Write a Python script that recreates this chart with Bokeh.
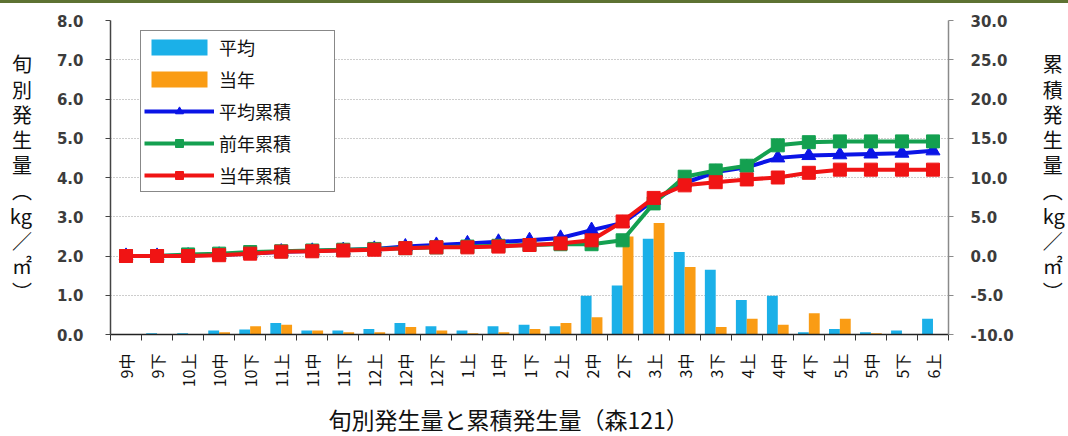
import numpy as np
from bokeh.plotting import figure
from bokeh.models import (Range1d, LinearAxis, FixedTicker, NumeralTickFormatter,
                          Legend, LegendItem, Title, ColumnDataSource)
from bokeh.transform import dodge
from bokeh.embed import file_html
from bokeh.resources import INLINE

# Dekads (旬) from mid-September to early June
categories = ["9中", "9下", "10上", "10中", "10下", "11上", "11中", "11下", "12上",
              "12中", "12下", "1上", "1中", "1下", "2上", "2中", "2下", "3上",
              "3中", "3下", "4上", "4中", "4下", "5上", "5中", "5下", "6上"]

# Per-dekad amounts (kg/㎡), left axis
avg_dekad = [0.00, 0.03, 0.03, 0.10, 0.13, 0.29, 0.10, 0.10, 0.14, 0.29, 0.21, 0.10, 0.21, 0.25,
             0.21, 0.99, 1.25, 2.44, 2.10, 1.65, 0.88, 0.99, 0.06, 0.14, 0.06, 0.10, 0.40]
cur_dekad = [0.00, 0.00, 0.00, 0.06, 0.21, 0.25, 0.10, 0.06, 0.06, 0.19, 0.10, 0.03, 0.06, 0.14,
             0.29, 0.44, 2.50, 2.84, 1.72, 0.19, 0.40, 0.25, 0.54, 0.40, 0.03, 0.01, 0.00]

# Cumulative amounts (kg/㎡), right axis
avg_cum = [0.0, 0.0, 0.05, 0.15, 0.3, 0.55, 0.65, 0.75, 0.9, 1.2, 1.4, 1.6, 1.8, 2.0,
           2.3, 3.3, 4.2, 7.1, 9.3, 10.7, 11.3, 12.5, 12.8, 12.9, 13.0, 13.1, 13.4]
prev_cum = [0.0, 0.0, 0.2, 0.3, 0.5, 0.6, 0.7, 0.8, 0.9, 1.0, 1.1, 1.2, 1.3, 1.4,
            1.5, 1.5, 2.0, 6.7, 10.1, 10.9, 11.5, 14.1, 14.5, 14.6, 14.6, 14.6, 14.6]
cur_cum = [0.0, 0.0, 0.0, 0.1, 0.3, 0.55, 0.6, 0.7, 0.8, 1.0, 1.1, 1.1, 1.2, 1.4,
           1.6, 2.0, 4.4, 7.4, 9.0, 9.4, 9.75, 10.0, 10.6, 11.0, 11.0, 11.0, 11.0]

left_ticks = [0, 1, 2, 3, 4, 5, 6, 7, 8]
right_ticks = [-10, -5, 0, 5, 10, 15, 20, 25, 30]

left_title = ["旬", "別", "発", "生", "量", "︵", "kg", "／", "㎡", "︶"]
right_title = ["累", "積", "発", "生", "量", "︵", "kg", "／", "㎡", "︶"]
caption = "旬別発生量と累積発生量（森121）"

JP = "Noto Sans CJK JP"
NUM = "DejaVu Sans"

n = len(categories)
centers = [i + 0.5 for i in range(n)]
src = ColumnDataSource(dict(x=centers, avg=avg_dekad, cur=cur_dekad,
                            avg_cum=avg_cum, prev_cum=prev_cum, cur_cum=cur_cum))

p = figure(width=1068, height=433, frame_width=838, frame_height=314,
           output_backend="svg", toolbar_location=None,
           x_range=Range1d(0, n), y_range=Range1d(left_ticks[0], left_ticks[-1]),
           min_border_left=110, min_border_right=120, min_border_top=17, min_border_bottom=102)
p.styles = {"border-top": "3px solid #5d7232"}
p.extra_y_ranges = {"cum": Range1d(right_ticks[0], right_ticks[-1])}
p.outline_line_color = None
p.background_fill_color = "white"
p.border_fill_color = "white"

# grid
p.xgrid.visible = False
p.ygrid.ticker = FixedTicker(ticks=left_ticks)
p.ygrid.grid_line_color = "#9a9a9a"
p.ygrid.grid_line_dash = "1 2"
p.ygrid.grid_line_width = 1

# x axis: labels at dekad centres, tick marks on dekad boundaries
xa = p.xaxis[0]
xa.ticker = FixedTicker(ticks=centers, minor_ticks=list(range(n + 1)))
xa.major_label_overrides = {c: lab for c, lab in zip(centers, categories)}
xa.major_label_orientation = np.pi / 2
xa.major_tick_out = 0
xa.major_tick_in = 0
xa.minor_tick_out = 6
xa.minor_tick_in = 0
xa.minor_tick_line_color = "#333333"
xa.axis_line_color = "#222222"
xa.axis_line_width = 1.5
xa.major_label_standoff = 13
xa.major_label_text_font = JP
xa.major_label_text_font_size = "16px"
xa.major_label_text_color = "#111111"


def style_y(ax, line_color, standoff, title_chars, title_standoff):
    ax.minor_tick_line_color = None
    ax.major_tick_out = 5
    ax.major_tick_in = 0
    ax.axis_line_color = line_color
    ax.axis_line_width = 1.5
    ax.major_tick_line_color = line_color
    ax.major_label_standoff = standoff
    ax.major_label_text_font = NUM
    ax.major_label_text_font_style = "bold"
    ax.major_label_text_font_size = "15px"
    ax.major_label_text_color = "#3c3c3c"
    # stacked upright characters, written top to bottom
    ax.axis_label = "\n".join(title_chars)
    ax.axis_label_orientation = "horizontal"
    ax.axis_label_standoff = title_standoff
    ax.axis_label_text_font = JP
    ax.axis_label_text_font_style = "normal"
    ax.axis_label_text_font_size = "20px"
    ax.axis_label_text_line_height = 0.87
    ax.axis_label_text_align = "center"
    ax.axis_label_text_color = "#111111"


# left axis
ya = p.yaxis[0]
ya.ticker = FixedTicker(ticks=left_ticks)
ya.formatter = NumeralTickFormatter(format="0.0")
style_y(ya, "#444444", 22, left_title, 22)

# right axis for the cumulative series
ra = LinearAxis(y_range_name="cum", ticker=FixedTicker(ticks=right_ticks),
                formatter=NumeralTickFormatter(format="0.0"))
style_y(ra, "#8a8a8a", 17, right_title, 26)
p.add_layout(ra, "right")

# caption under the dekad axis
p.add_layout(Title(text=caption, align="left", offset=218, standoff=18,
                   text_font=JP, text_font_size="23px", text_font_style="normal",
                   text_color="#111111"), "below")

# per-dekad bars
b_avg = p.vbar(x=dodge("x", -0.175, range=p.x_range), top="avg", width=0.35, source=src,
               fill_color="#1bb0e8", line_color=None)
b_cur = p.vbar(x=dodge("x", 0.175, range=p.x_range), top="cur", width=0.35, source=src,
               fill_color="#fa9c14", line_color=None)

# cumulative lines
l_avg = p.line("x", "avg_cum", source=src, y_range_name="cum", line_color="#0a14e6", line_width=4)
m_avg = p.scatter("x", "avg_cum", source=src, y_range_name="cum", marker="triangle", size=14,
                  fill_color="#0a14e6", line_color="#0a14e6")
l_prev = p.line("x", "prev_cum", source=src, y_range_name="cum", line_color="#14a050", line_width=4)
m_prev = p.scatter("x", "prev_cum", source=src, y_range_name="cum", marker="square", size=13,
                   fill_color="#14a050", line_color="#14a050")
l_cur = p.line("x", "cur_cum", source=src, y_range_name="cum", line_color="#f01414", line_width=4)
m_cur = p.scatter("x", "cur_cum", source=src, y_range_name="cum", marker="square", size=13,
                  fill_color="#f01414", line_color="#f01414")

legend = Legend(items=[
    LegendItem(label="平均", renderers=[b_avg]),
    LegendItem(label="当年", renderers=[b_cur]),
    LegendItem(label="平均累積", renderers=[l_avg, m_avg]),
    LegendItem(label="前年累積", renderers=[l_prev, m_prev]),
    LegendItem(label="当年累積", renderers=[l_cur, m_cur]),
], location=(30, 142))
legend.border_line_color = "#111111"
legend.border_line_width = 1.5
legend.background_fill_color = "white"
legend.background_fill_alpha = 1
legend.label_text_font = JP
legend.label_text_font_size = "18px"
legend.label_text_color = "#111111"
legend.glyph_width = 70
legend.glyph_height = 20
legend.label_height = 20
legend.label_width = 112
legend.label_standoff = 5
legend.padding = 3
legend.spacing = 6
legend.margin = 0
p.add_layout(legend)

open("out.html", "w").write(file_html(p, INLINE))
